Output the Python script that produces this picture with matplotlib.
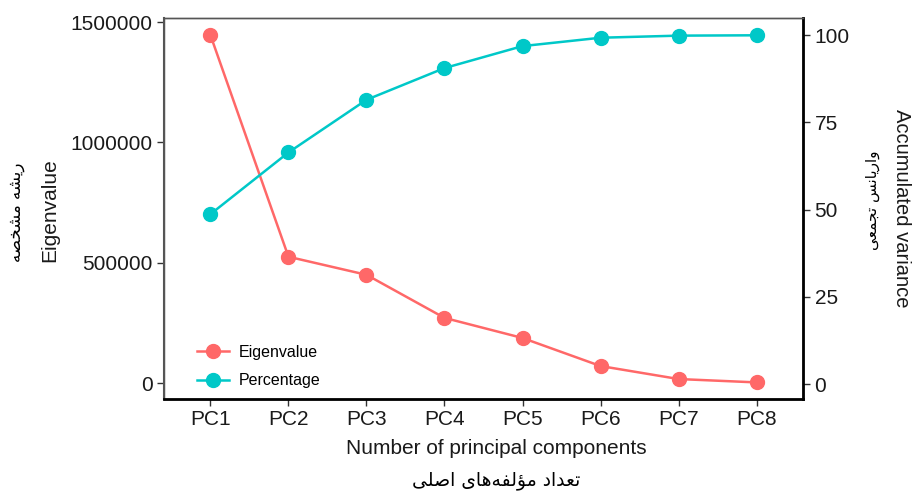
import matplotlib
matplotlib.use("Agg")
import matplotlib.pyplot as plt

components = ["PC1", "PC2", "PC3", "PC4", "PC5", "PC6", "PC7", "PC8"]
eigenvalue = [1446000, 525000, 450000, 271000, 187500, 71000, 17000, 3000]
percentage = [48.7, 66.4, 81.5, 90.6, 96.9, 99.3, 99.9, 100.0]

left_ticks = [0, 500000, 1000000, 1500000]
right_ticks = [0, 25, 50, 75, 100]

label_fa_left = "ریشه مشخصه"
label_fa_right = "واریانس تجمعی"
label_fa_bottom = "تعداد مؤلفه\u200cهای اصلی"

RED = "#FF6868"
TEAL = "#00C8C8"

# presentation forms: isolated, final, (initial, medial)
FORMS = {
    "ا": ("\uFE8D", "\uFE8E"),
    "د": ("\uFEA9", "\uFEAA"),
    "ر": ("\uFEAD", "\uFEAE"),
    "و": ("\uFEED", "\uFEEE"),
    "ؤ": ("\uFE85", "\uFE86"),
    "ت": ("\uFE95", "\uFE96", "\uFE97", "\uFE98"),
    "ج": ("\uFE9D", "\uFE9E", "\uFE9F", "\uFEA0"),
    "خ": ("\uFEA5", "\uFEA6", "\uFEA7", "\uFEA8"),
    "س": ("\uFEB1", "\uFEB2", "\uFEB3", "\uFEB4"),
    "ش": ("\uFEB5", "\uFEB6", "\uFEB7", "\uFEB8"),
    "ص": ("\uFEB9", "\uFEBA", "\uFEBB", "\uFEBC"),
    "ع": ("\uFEC9", "\uFECA", "\uFECB", "\uFECC"),
    "ف": ("\uFED1", "\uFED2", "\uFED3", "\uFED4"),
    "ل": ("\uFEDD", "\uFEDE", "\uFEDF", "\uFEE0"),
    "م": ("\uFEE1", "\uFEE2", "\uFEE3", "\uFEE4"),
    "ن": ("\uFEE5", "\uFEE6", "\uFEE7", "\uFEE8"),
    "ه": ("\uFEE9", "\uFEEA", "\uFEEB", "\uFEEC"),
    "ی": ("\uFEEF", "\uFEF0", "\uFEF3", "\uFEF4"),
}


def shape(text):
    """very small arabic/persian shaper: contextual forms + visual order"""
    out = []
    for i, ch in enumerate(text):
        if ch == "\u200c":
            continue
        if ch not in FORMS:
            out.append(ch)
            continue
        prev = text[i - 1] if i > 0 else ""
        nxt = text[i + 1] if i + 1 < len(text) else ""
        f = FORMS[ch]
        jp = prev in FORMS and len(FORMS[prev]) == 4
        jn = len(f) == 4 and nxt in FORMS
        if jp and jn:
            out.append(f[3])
        elif jp:
            out.append(f[1])
        elif jn:
            out.append(f[2])
        else:
            out.append(f[0])
    return "".join(reversed(out))


plt.rcParams["font.family"] = ["Liberation Sans", "DejaVu Sans"]

fig = plt.figure(figsize=(9.14, 4.92), dpi=100)
ax = fig.add_axes([0.179, 0.189, 0.700, 0.774])
ax2 = ax.twinx()

x = list(range(1, len(components) + 1))
l1, = ax.plot(x, eigenvalue, color=RED, lw=1.8, marker="o", ms=10,
              label="Eigenvalue")
l2, = ax2.plot(x, percentage, color=TEAL, lw=1.8, marker="o", ms=10,
               label="Percentage")

ax.set_xlim(0.4, 8.6)
ax.set_ylim(-66000, 1516000)
ax2.set_ylim(-4.3, 104.9)
ax.set_xticks(x)
ax.set_xticklabels(components)
ax.set_yticks(left_ticks)
ax.set_yticklabels([str(v) for v in left_ticks])
ax2.set_yticks(right_ticks)

for a in (ax, ax2):
    a.tick_params(direction="out", length=5, width=1, color="#333333",
                  labelsize=15, labelcolor="#1a1a1a", pad=3)
    for s in a.spines.values():
        s.set_color("#555555")
        s.set_linewidth(1.0)
ax2.spines["left"].set_linewidth(1.5)
ax2.spines["right"].set_color("black")
ax2.spines["right"].set_linewidth(2)
ax2.spines["bottom"].set_color("black")
ax2.spines["bottom"].set_linewidth(2)

# axis titles, placed by hand like the reference
fig.text(50 / 914, 1 - 210 / 492, "Eigenvalue", rotation=90, ha="center",
         va="center", fontsize=15, color="#1a1a1a")
fig.text(902 / 914, 1 - 208 / 492, "Accumulated variance", rotation=270,
         ha="center", va="center", fontsize=14.5, color="#1a1a1a")
fig.text(496 / 914, 1 - 449 / 492, "Number of principal components",
         ha="center", va="center", fontsize=15, color="#1a1a1a")

fig.text(16 / 914, 1 - 212 / 492, shape(label_fa_left), rotation=90,
         ha="center", va="center", fontsize=12, family=["DejaVu Sans"])
fig.text(872 / 914, 1 - 200 / 492, shape(label_fa_right), rotation=90,
         ha="center", va="center", fontsize=11, family=["DejaVu Sans"])
fig.text(496 / 914, 1 - 481 / 492, shape(label_fa_bottom),
         ha="center", va="center", fontsize=13.5, family=["DejaVu Sans"])

ax2.legend([l1, l2], ["Eigenvalue", "Percentage"], loc="lower left",
           bbox_to_anchor=(0.03, -0.01), frameon=False, fontsize=11.5,
           handlelength=2, handletextpad=0.6, labelspacing=0.85)

fig.savefig("out.png", dpi=100)
